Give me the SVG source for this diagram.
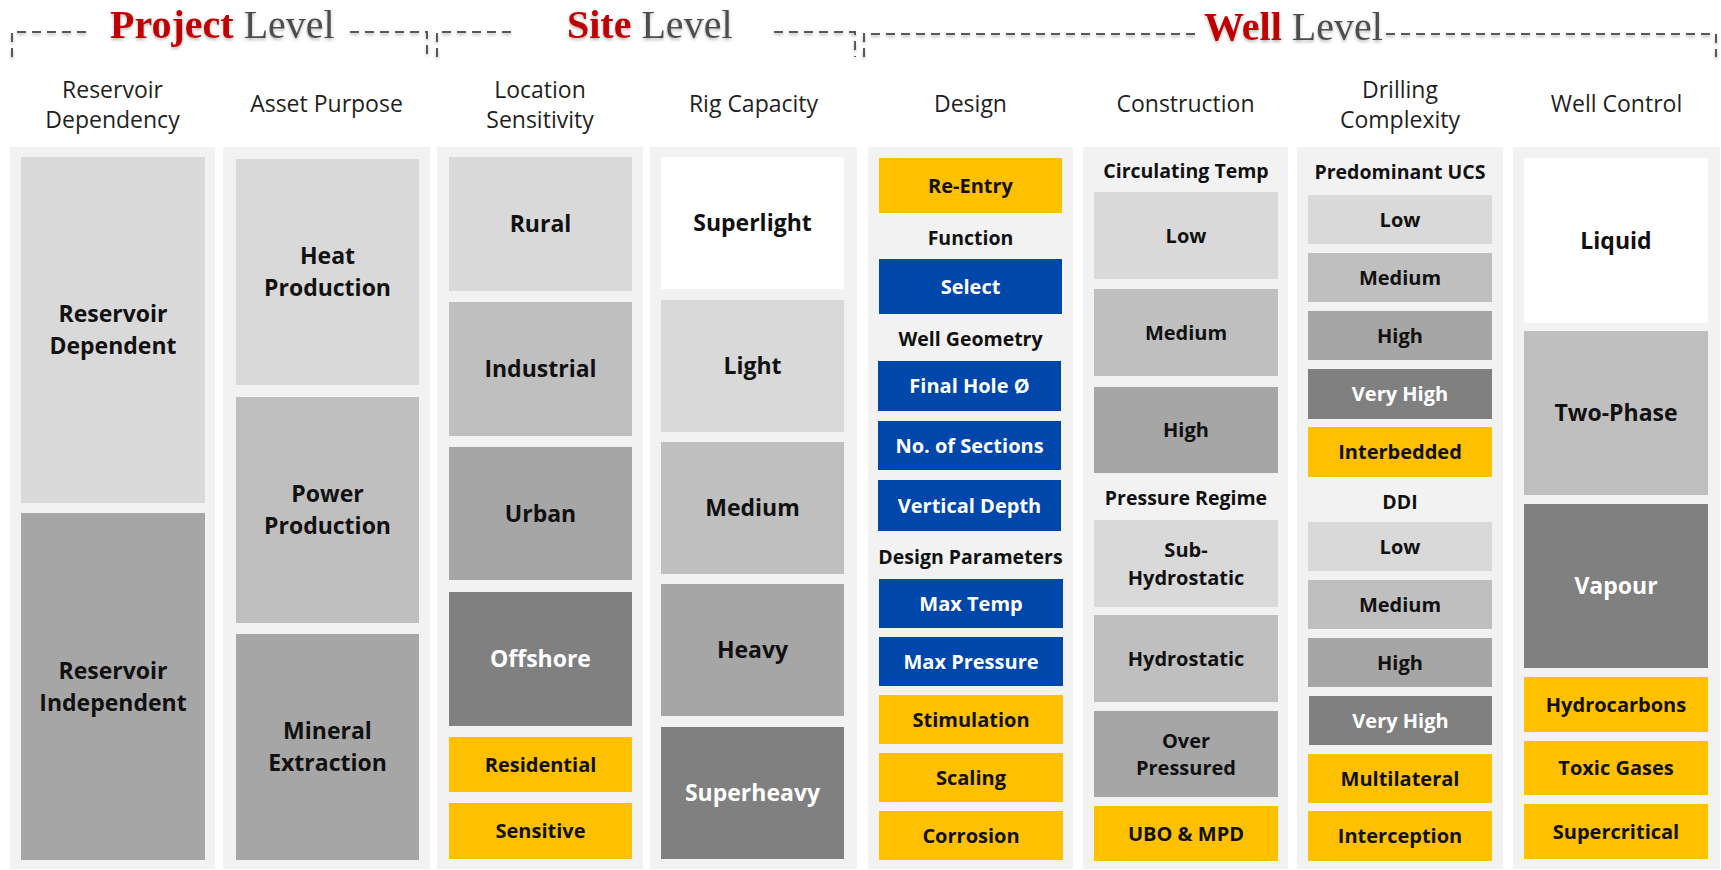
<svg xmlns="http://www.w3.org/2000/svg" width="1721" height="870" viewBox="0 0 1721 870">
  <defs>
    <filter id="soft" x="-5%" y="-40%" width="110%" height="200%">
      <feDropShadow dx="0" dy="2" stdDeviation="1.6" flood-color="#000" flood-opacity="0.28"/>
    </filter>
    <style>
      text { font-family: "Open Sans", "Liberation Sans", sans-serif; text-anchor: middle; }
      .panel { fill: #f2f2f2; }
      .hdr { font-size: 23px; fill: #1f1f1f; }
      .sub { font-size: 19.5px; font-weight: 700; fill: #111; }
      .big { font-size: 23px; font-weight: 700; fill: #111; }
      .sm { font-size: 20px; font-weight: 700; fill: #111; }
      .inv { fill: #ffffff; }
      .c1 { fill: #d9d9d9; }
      .c2 { fill: #bfbfbf; }
      .c3 { fill: #a6a6a6; }
      .c4 { fill: #808080; }
      .cw { fill: #ffffff; }
      .cy { fill: #ffc000; }
      .cb { fill: #0047ab; }
      .ttl { font-family: "Liberation Serif", "DejaVu Serif", serif; font-size: 40px; text-anchor: start; }
      .ttl .key { font-weight: 700; fill: #c00000; }
      .ttl .lvl { fill: #4d4d4d; }
      .brk { fill: none; stroke: #595959; stroke-width: 2; stroke-dasharray: 9 6; }
    </style>
  </defs>

  <rect width="1721" height="870" fill="#ffffff"/>

  <!-- level titles and their dashed brackets -->
  <g id="connectors" filter="url(#soft)">
    <path class="brk" d="M12,57 V32 H92"/>
    <path class="brk" d="M350,32 H427 V57"/>
    <path class="brk" d="M437,57 V32 H515"/>
    <path class="brk" d="M774,32 H855 V57"/>
    <path class="brk" d="M864,57 V34 H1196"/>
    <path class="brk" d="M1386,34 H1716 V57"/>
  </g>
  <g id="titles" filter="url(#soft)">
    <text class="ttl" x="110" y="38"><tspan class="key">Project</tspan><tspan class="lvl"> Level</tspan></text>
    <text class="ttl" x="567" y="38"><tspan class="key">Site</tspan><tspan class="lvl"> Level</tspan></text>
    <text class="ttl" x="1204" y="40"><tspan class="key">Well</tspan><tspan class="lvl"> Level</tspan></text>
  </g>

  <!-- column headers -->
  <g id="headers">
    <text class="hdr" x="112.5" y="98">Reservoir</text>
    <text class="hdr" x="112.5" y="128">Dependency</text>
    <text class="hdr" x="326.5" y="112">Asset Purpose</text>
    <text class="hdr" x="540" y="98">Location</text>
    <text class="hdr" x="540" y="128">Sensitivity</text>
    <text class="hdr" x="753.5" y="112">Rig Capacity</text>
    <text class="hdr" x="970.5" y="112">Design</text>
    <text class="hdr" x="1185.5" y="112">Construction</text>
    <text class="hdr" x="1400" y="98">Drilling</text>
    <text class="hdr" x="1400" y="128">Complexity</text>
    <text class="hdr" x="1616.5" y="112">Well Control</text>
  </g>

  <!-- column panels -->
  <g id="panels">
    <rect class="panel" x="10" y="147" width="205" height="722"/>
    <rect class="panel" x="223" y="147" width="207" height="722"/>
    <rect class="panel" x="437" y="147" width="206" height="722"/>
    <rect class="panel" x="650" y="147" width="207" height="722"/>
    <rect class="panel" x="868" y="147" width="205" height="722"/>
    <rect class="panel" x="1083" y="147" width="205" height="722"/>
    <rect class="panel" x="1297" y="147" width="206" height="722"/>
    <rect class="panel" x="1513" y="147" width="207" height="722"/>
  </g>

  <!-- Reservoir Dependency -->
  <g id="reservoir-dependent">
    <rect class="c1" x="21" y="157" width="184" height="346"/>
    <text class="big" x="113" y="322">Reservoir</text>
    <text class="big" x="113" y="354">Dependent</text>
  </g>
  <g id="reservoir-independent">
    <rect class="c3" x="21" y="513" width="184" height="347"/>
    <text class="big" x="113" y="679">Reservoir</text>
    <text class="big" x="113" y="711">Independent</text>
  </g>

  <!-- Asset Purpose -->
  <g id="heat-production">
    <rect class="c1" x="236" y="159" width="183" height="226"/>
    <text class="big" x="327.5" y="264">Heat</text>
    <text class="big" x="327.5" y="296">Production</text>
  </g>
  <g id="power-production">
    <rect class="c2" x="236" y="397" width="183" height="226"/>
    <text class="big" x="327.5" y="502">Power</text>
    <text class="big" x="327.5" y="534">Production</text>
  </g>
  <g id="mineral-extraction">
    <rect class="c3" x="236" y="634" width="183" height="226"/>
    <text class="big" x="327.5" y="739">Mineral</text>
    <text class="big" x="327.5" y="771">Extraction</text>
  </g>

  <!-- Location Sensitivity -->
  <g id="rural">
    <rect class="c1" x="449" y="157" width="183" height="134"/>
    <text class="big" x="540.5" y="232">Rural</text>
  </g>
  <g id="industrial">
    <rect class="c2" x="449" y="302" width="183" height="134"/>
    <text class="big" x="540.5" y="377">Industrial</text>
  </g>
  <g id="urban">
    <rect class="c3" x="449" y="447" width="183" height="133"/>
    <text class="big" x="540.5" y="521.5">Urban</text>
  </g>
  <g id="offshore">
    <rect class="c4" x="449" y="592" width="183" height="134"/>
    <text class="big inv" x="540.5" y="667">Offshore</text>
  </g>
  <g id="residential">
    <rect class="cy" x="449" y="737" width="183" height="55"/>
    <text class="sm" x="540.5" y="772">Residential</text>
  </g>
  <g id="sensitive">
    <rect class="cy" x="449" y="803" width="183" height="56"/>
    <text class="sm" x="540.5" y="838">Sensitive</text>
  </g>

  <!-- Rig Capacity -->
  <g id="superlight">
    <rect class="cw" x="661" y="157" width="183" height="132"/>
    <text class="big" x="752.5" y="231">Superlight</text>
  </g>
  <g id="light">
    <rect class="c1" x="661" y="300" width="183" height="132"/>
    <text class="big" x="752.5" y="374">Light</text>
  </g>
  <g id="rig-medium">
    <rect class="c2" x="661" y="442" width="183" height="132"/>
    <text class="big" x="752.5" y="516">Medium</text>
  </g>
  <g id="heavy">
    <rect class="c3" x="661" y="584" width="183" height="132"/>
    <text class="big" x="752.5" y="658">Heavy</text>
  </g>
  <g id="superheavy">
    <rect class="c4" x="661" y="727" width="183" height="132"/>
    <text class="big inv" x="752.5" y="801">Superheavy</text>
  </g>

  <!-- Design -->
  <g id="re-entry">
    <rect class="cy" x="879" y="158" width="183" height="55"/>
    <text class="sm" x="970.5" y="193">Re-Entry</text>
  </g>
  <g id="function-label">
    <text class="sub" x="970.5" y="245">Function</text>
  </g>
  <g id="select">
    <rect class="cb" x="879" y="259" width="183" height="55"/>
    <text class="sm inv" x="970.5" y="294">Select</text>
  </g>
  <g id="well-geometry-label">
    <text class="sub" x="970.5" y="346">Well Geometry</text>
  </g>
  <g id="final-hole">
    <rect class="cb" x="878" y="361" width="183" height="50"/>
    <text class="sm inv" x="969.5" y="393">Final Hole Ø</text>
  </g>
  <g id="sections">
    <rect class="cb" x="878" y="421" width="183" height="49"/>
    <text class="sm inv" x="969.5" y="452.5">No. of Sections</text>
  </g>
  <g id="vertical-depth">
    <rect class="cb" x="878" y="480" width="183" height="51"/>
    <text class="sm inv" x="969.5" y="512.5">Vertical Depth</text>
  </g>
  <g id="design-parameters-label">
    <text class="sub" x="970.5" y="564">Design Parameters</text>
  </g>
  <g id="max-temp">
    <rect class="cb" x="879" y="579" width="184" height="49"/>
    <text class="sm inv" x="971" y="610.5">Max Temp</text>
  </g>
  <g id="max-pressure">
    <rect class="cb" x="879" y="637" width="184" height="49"/>
    <text class="sm inv" x="971" y="668.5">Max Pressure</text>
  </g>
  <g id="stimulation">
    <rect class="cy" x="879" y="695" width="184" height="49"/>
    <text class="sm" x="971" y="726.5">Stimulation</text>
  </g>
  <g id="scaling">
    <rect class="cy" x="879" y="753" width="184" height="49"/>
    <text class="sm" x="971" y="784.5">Scaling</text>
  </g>
  <g id="corrosion">
    <rect class="cy" x="879" y="811" width="184" height="49"/>
    <text class="sm" x="971" y="842.5">Corrosion</text>
  </g>

  <!-- Construction -->
  <g id="circulating-temp-label">
    <text class="sub" x="1186" y="178">Circulating Temp</text>
  </g>
  <g id="temp-low">
    <rect class="c1" x="1094" y="192" width="184" height="87"/>
    <text class="sm" x="1186" y="242.5">Low</text>
  </g>
  <g id="temp-medium">
    <rect class="c2" x="1094" y="289" width="184" height="87"/>
    <text class="sm" x="1186" y="339.5">Medium</text>
  </g>
  <g id="temp-high">
    <rect class="c3" x="1094" y="387" width="184" height="86"/>
    <text class="sm" x="1186" y="437">High</text>
  </g>
  <g id="pressure-regime-label">
    <text class="sub" x="1186" y="505">Pressure Regime</text>
  </g>
  <g id="sub-hydrostatic">
    <rect class="c1" x="1094" y="520" width="184" height="87"/>
    <text class="sm" x="1186" y="557">Sub-</text>
    <text class="sm" x="1186" y="585">Hydrostatic</text>
  </g>
  <g id="hydrostatic">
    <rect class="c2" x="1094" y="615" width="184" height="87"/>
    <text class="sm" x="1186" y="665.5">Hydrostatic</text>
  </g>
  <g id="over-pressured">
    <rect class="c3" x="1094" y="711" width="184" height="86"/>
    <text class="sm" x="1186" y="747.5">Over</text>
    <text class="sm" x="1186" y="775">Pressured</text>
  </g>
  <g id="ubo-mpd">
    <rect class="cy" x="1094" y="806" width="184" height="55"/>
    <text class="sm" x="1186" y="841">UBO &amp; MPD</text>
  </g>

  <!-- Drilling Complexity -->
  <g id="ucs-label">
    <text class="sub" x="1400" y="179">Predominant UCS</text>
  </g>
  <g id="ucs-low">
    <rect class="c1" x="1308" y="195" width="184" height="49"/>
    <text class="sm" x="1400" y="226.5">Low</text>
  </g>
  <g id="ucs-medium">
    <rect class="c2" x="1308" y="253" width="184" height="49"/>
    <text class="sm" x="1400" y="284.5">Medium</text>
  </g>
  <g id="ucs-high">
    <rect class="c3" x="1308" y="311" width="184" height="49"/>
    <text class="sm" x="1400" y="342.5">High</text>
  </g>
  <g id="ucs-very-high">
    <rect class="c4" x="1308" y="369" width="184" height="50"/>
    <text class="sm inv" x="1400" y="401">Very High</text>
  </g>
  <g id="interbedded">
    <rect class="cy" x="1308" y="427" width="184" height="50"/>
    <text class="sm" x="1400" y="459">Interbedded</text>
  </g>
  <g id="ddi-label">
    <text class="sub" x="1400" y="509">DDI</text>
  </g>
  <g id="ddi-low">
    <rect class="c1" x="1308" y="522" width="184" height="49"/>
    <text class="sm" x="1400" y="553.5">Low</text>
  </g>
  <g id="ddi-medium">
    <rect class="c2" x="1308" y="580" width="184" height="49"/>
    <text class="sm" x="1400" y="611.5">Medium</text>
  </g>
  <g id="ddi-high">
    <rect class="c3" x="1308" y="638" width="184" height="49"/>
    <text class="sm" x="1400" y="669.5">High</text>
  </g>
  <g id="ddi-very-high">
    <rect class="c4" x="1309" y="696" width="183" height="49"/>
    <text class="sm inv" x="1400.5" y="727.5">Very High</text>
  </g>
  <g id="multilateral">
    <rect class="cy" x="1308" y="754" width="184" height="49"/>
    <text class="sm" x="1400" y="785.5">Multilateral</text>
  </g>
  <g id="interception">
    <rect class="cy" x="1308" y="811" width="184" height="50"/>
    <text class="sm" x="1400" y="843">Interception</text>
  </g>

  <!-- Well Control -->
  <g id="liquid">
    <rect class="cw" x="1524" y="158" width="184" height="165"/>
    <text class="big" x="1616" y="248.5">Liquid</text>
  </g>
  <g id="two-phase">
    <rect class="c2" x="1524" y="331" width="184" height="164"/>
    <text class="big" x="1616" y="421">Two-Phase</text>
  </g>
  <g id="vapour">
    <rect class="c4" x="1524" y="504" width="184" height="164"/>
    <text class="big inv" x="1616" y="594">Vapour</text>
  </g>
  <g id="hydrocarbons">
    <rect class="cy" x="1524" y="677" width="184" height="55"/>
    <text class="sm" x="1616" y="711.5">Hydrocarbons</text>
  </g>
  <g id="toxic-gases">
    <rect class="cy" x="1524" y="741" width="184" height="54"/>
    <text class="sm" x="1616" y="775">Toxic Gases</text>
  </g>
  <g id="supercritical">
    <rect class="cy" x="1524" y="804" width="184" height="55"/>
    <text class="sm" x="1616" y="838.5">Supercritical</text>
  </g>
</svg>
